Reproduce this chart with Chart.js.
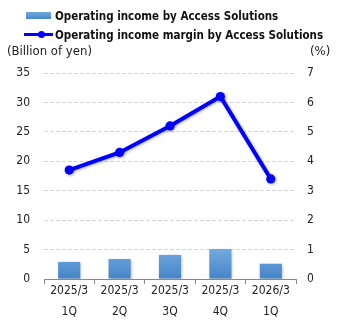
<!DOCTYPE html>
<html>
<head>
<meta charset="utf-8">
<script src="https://cdn.jsdelivr.net/npm/chart.js@4.4.1/dist/chart.umd.min.js"></script>
<style>
  html, body { margin: 0; padding: 0; background: #fff; }
  #wrap { position: relative; width: 345px; height: 330px; font-family: 'DejaVu Sans Condensed', 'DejaVu Sans', sans-serif; color: #222; }
  #chart { position: absolute; left: 0; top: 0; }
  .legend-row { position: absolute; left: 24px; height: 16px; display: flex; align-items: center; font-weight: bold; font-size: 11.5px; color: #111; white-space: nowrap; }
  .swatch { position: relative; width: 30px; height: 16px; margin-right: 1px; }
  .swatch .bar { position: absolute; left: 2px; top: 4px; width: 25px; height: 7px; background: linear-gradient(#70a9df, #4a88cb); }
  .swatch .line { position: absolute; left: 0; top: 6px; width: 29px; height: 3px; background: #0000ff; }
  .swatch .dot { position: absolute; left: 14px; top: 4px; width: 7px; height: 7px; border-radius: 50%; background: #0000ff; }
  .axis-title { position: absolute; top: 43px; font-size: 13px; color: #222; }
</style>
</head>
<body>
<div id="wrap">
  <canvas id="chart" width="345" height="330"></canvas>
  <div class="legend-row" style="top:8px"><div class="swatch"><div class="bar"></div></div><span id="lg1"></span></div>
  <div class="legend-row" style="top:27px"><div class="swatch"><div class="line"></div><div class="dot"></div></div><span id="lg2"></span></div>
  <div class="axis-title" style="left:7px">(Billion of yen)</div>
  <div class="axis-title" style="left:310px">(%)</div>
</div>
<script>
// Operating income / margin by Access Solutions

const categories = [
    ['2025/3', '1Q'],
    ['2025/3', '2Q'],
    ['2025/3', '3Q'],
    ['2025/3', '4Q'],
    ['2026/3', '1Q']
];

// billion yen (left axis)
const operatingIncome = [2.9, 3.4, 4.1, 5.1, 2.6];
// percent (right axis)
const operatingMargin = [3.7, 4.3, 5.2, 6.2, 3.4];

const incomeLabel = 'Operating income by Access Solutions';
const marginLabel = 'Operating income margin by Access Solutions';

document.getElementById('lg1').textContent = incomeLabel;
document.getElementById('lg2').textContent = marginLabel;

const FONT = "'DejaVu Sans Condensed', 'DejaVu Sans', sans-serif";

// soft drop shadow under bars and line
const shadowPlugin = {
    id: 'shadow',
    beforeDatasetDraw(chart) {
        const ctx = chart.ctx;
        ctx.save();
        ctx.shadowColor = 'rgba(0,0,0,0.3)';
        ctx.shadowBlur = 3;
        ctx.shadowOffsetX = 1;
        ctx.shadowOffsetY = 1;
    },
    afterDatasetDraw(chart) {
        chart.ctx.restore();
    }
};

function barGradient(context) {
    const area = context.chart.chartArea;
    if (!area) return '#5b96d5';
    const g = context.chart.ctx.createLinearGradient(0, area.bottom - 32, 0, area.bottom);
    g.addColorStop(0, '#74addf');
    g.addColorStop(1, '#4584c9');
    return g;
}

const ctx = document.getElementById('chart').getContext('2d');
new Chart(ctx, {
    type: 'bar',
    data: {
        labels: categories,
        datasets: [
            {
                type: 'line',
                label: marginLabel,
                data: operatingMargin,
                yAxisID: 'y1',
                borderColor: '#0000ff',
                backgroundColor: '#0000ff',
                borderWidth: 4,
                pointRadius: 4.6,
                pointBorderWidth: 0,
                pointHoverRadius: 4.6,
                tension: 0,
                order: 0
            },
            {
                type: 'bar',
                label: incomeLabel,
                data: operatingIncome,
                yAxisID: 'y',
                backgroundColor: barGradient,
                barPercentage: 0.44,
                categoryPercentage: 1,
                order: 1
            }
        ]
    },
    options: {
        responsive: false,
        animation: false,
        layout: { padding: { top: 73, left: 0, right: 0, bottom: 0 } },
        plugins: {
            legend: { display: false },
            tooltip: { enabled: false }
        },
        scales: {
            x: {
                offset: true,
                grid: {
                    offset: true,
                    drawOnChartArea: false,
                    drawTicks: true,
                    tickLength: 5,
                    color: '#888'
                },
                border: { display: true, color: '#888' },
                ticks: {
                    color: '#222',
                    padding: -4,
                    font: { family: FONT, size: 12, lineHeight: 1.75 },
                    maxRotation: 0
                },
                afterFit: s => { s.height = 51; }
            },
            y: {
                position: 'left',
                min: 0,
                max: 35,
                grid: {
                    color: '#d4d4d4',
                    drawTicks: false
                },
                border: { display: false, dash: [4, 2] },
                ticks: {
                    stepSize: 5,
                    color: '#222',
                    padding: 14,
                    font: { family: FONT, size: 12 }
                },
                afterFit: s => { s.width = 44; }
            },
            y1: {
                position: 'right',
                min: 0,
                max: 7,
                grid: { display: false, drawTicks: false },
                border: { display: false },
                ticks: {
                    stepSize: 1,
                    color: '#222',
                    padding: 11,
                    font: { family: FONT, size: 12 }
                },
                afterFit: s => { s.width = 49; }
            }
        }
    },
    plugins: [shadowPlugin]
});
</script>
</body>
</html>
